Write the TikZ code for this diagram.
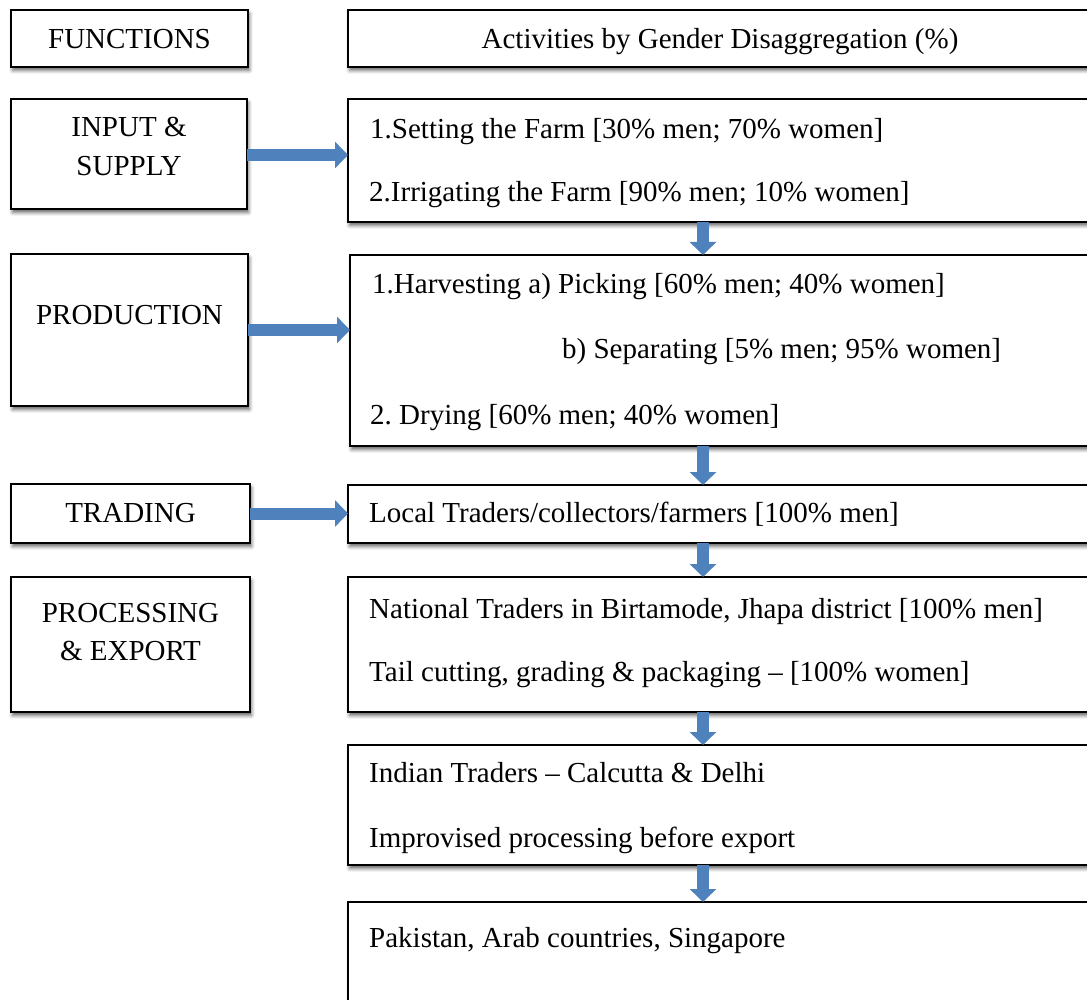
\documentclass[tikz,border=0pt]{standalone}
\usepackage{fontspec}
\setmainfont{Liberation Serif}
\usetikzlibrary{arrows.meta,shadows.blur}
\definecolor{flowblue}{HTML}{4F81BD}
\frenchspacing
\begin{document}
\begin{tikzpicture}[x=1pt,y=-1pt,
  box/.style={draw=black, line width=1.6pt, fill=white, anchor=north west,
    inner sep=0pt, outer sep=0pt,
    blur shadow={shadow xshift=1.5pt, shadow yshift=-3.5pt, shadow blur radius=3.5pt, shadow opacity=60}},
  lbl/.style={font=\fontsize{29pt}{34pt}\selectfont, inner sep=0pt, anchor=base},
  txt/.style={font=\fontsize{29pt}{34pt}\selectfont, inner sep=0pt, anchor=base west},
  flow/.style={draw=flowblue, line width=12pt, -{Triangle[length=13pt,width=26pt]}}]
\useasboundingbox (0,0) rectangle (1087,1000);
\clip (0,0) rectangle (1087,1000);

% left column: functions
\node[box, minimum width=237pt, minimum height=57pt]  (fn) at (11,10) {};
\node[box, minimum width=236pt, minimum height=110pt] (is) at (11,99) {};
\node[box, minimum width=237pt, minimum height=152pt] (pr) at (11,254) {};
\node[box, minimum width=239pt, minimum height=59pt]  (tr) at (11,484) {};
\node[box, minimum width=239pt, minimum height=135pt] (pe) at (11,577) {};

% right column: activities
\node[box, minimum width=760pt, minimum height=57pt]  (act) at (348,10) {};
\node[box, minimum width=760pt, minimum height=123pt] (r1) at (348,99) {};
\node[box, minimum width=760pt, minimum height=191pt] (r2) at (350,255) {};
\node[box, minimum width=760pt, minimum height=58pt]  (r3) at (348,485) {};
\node[box, minimum width=760pt, minimum height=135pt] (r4) at (348,577) {};
\node[box, minimum width=760pt, minimum height=120pt] (r5) at (348,745) {};
\node[box, minimum width=760pt, minimum height=150pt] (r6) at (348,902) {};

% left labels
\node[lbl] (tfn) at (129.5,49) {FUNCTIONS};
\node[lbl] (tis1) at (129,137) {INPUT \&};
\node[lbl] (tis2) at (129,176) {SUPPLY};
\node[lbl] (tpr) at (129.5,325) {PRODUCTION};
\node[lbl] (ttr) at (130.5,522) {TRADING};
\node[lbl] (tpe1) at (130.5,622) {PROCESSING};
\node[lbl] (tpe2) at (130.5,660) {\& EXPORT};

% right texts
\node[lbl] (tact) at (720,49) {Activities by Gender Disaggregation (\%)};
\node[txt] (t11) at (370,139) {1.Setting the Farm [30\% men; 70\% women]};
\node[txt] (t12) at (369,202) {2.Irrigating the Farm [90\% men; 10\% women]};
\node[txt] (t21) at (372,294) {1.Harvesting a) Picking [60\% men; 40\% women]};
\node[txt] (t22) at (562,359) {b) Separating [5\% men; 95\% women]};
\node[txt] (t23) at (370,424) {2. Drying [60\% men; 40\% women]};
\node[txt] (t31) at (369,522) {Local Traders/collectors/farmers [100\% men]};
\node[txt] (t41) at (369,618) {National Traders in Birtamode, Jhapa district [100\% men]};
\node[txt] (t42) at (369,681) {Tail cutting, grading \& packaging -- [100\% women]};
\node[txt] (t51) at (369,782) {Indian Traders -- Calcutta \& Delhi};
\node[txt] (t52) at (369,847) {Improvised processing before export};
\node[txt] (t61) at (369,947) {Pakistan, Arab countries, Singapore};

% connectors
\coordinate (col) at (703,0);
\draw[flow] (is.east |- 0,155) -- (r1.west |- 0,155);
\draw[flow] (pr.east) -- (pr.east -| r2.west);
\draw[flow] (tr.east) -- (tr.east -| r3.west);
\draw[flow] (r1.south -| col) -- (r2.north -| col);
\draw[flow] (r2.south -| col) -- (r3.north -| col);
\draw[flow] (r3.south -| col) -- (r4.north -| col);
\draw[flow] (r4.south -| col) -- (r5.north -| col);
\draw[flow] (r5.south -| col) -- (r6.north -| col);
\end{tikzpicture}
\end{document}
